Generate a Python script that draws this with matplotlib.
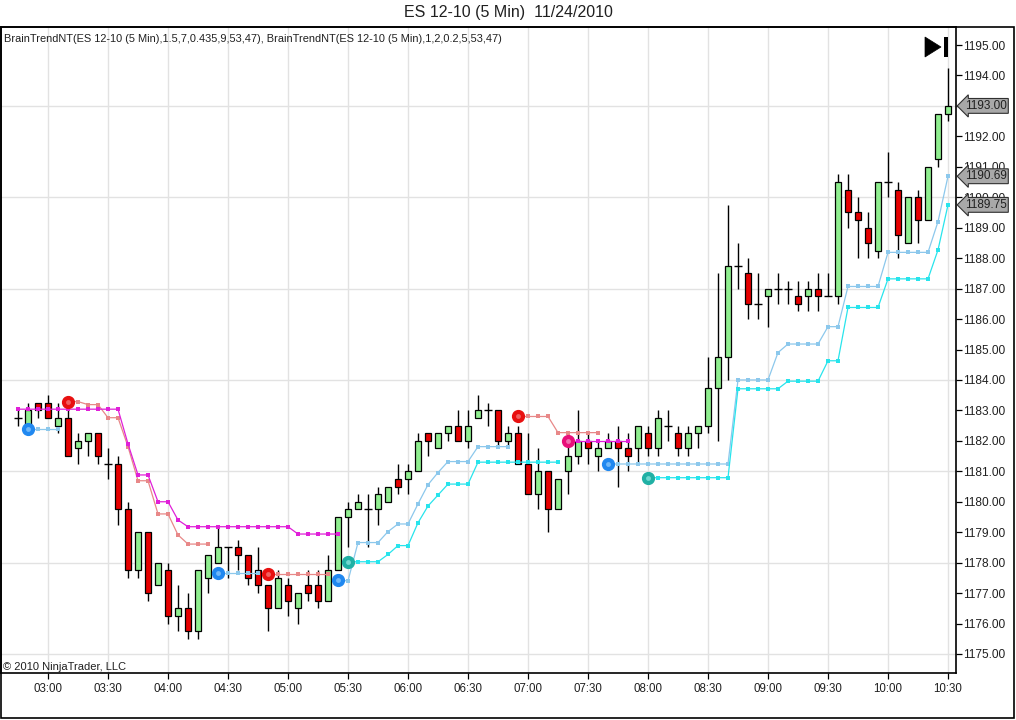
import numpy as np
import matplotlib
matplotlib.use("Agg")
import matplotlib.pyplot as plt
from matplotlib.patches import Rectangle, Polygon
from matplotlib.transforms import blended_transform_factory

plt.rcParams['font.family'] = ['Liberation Sans', 'DejaVu Sans']

# ---------------- data ----------------
time_labels = ["03:00", "03:30", "04:00", "04:30", "05:00", "05:30", "06:00", "06:30",
               "07:00", "07:30", "08:00", "08:30", "09:00", "09:30", "10:00", "10:30"]
first_label_bar = 3   # bar index of 03:00 (first bar is 02:45)

opens = [1182.75, 1182.5, 1183.25, 1183.25, 1182.5, 1182.75, 1181.75, 1182.0, 1182.25, 1181.25,
         1181.25, 1179.75, 1177.75, 1179.0, 1177.25, 1177.75, 1176.25, 1176.5, 1175.75, 1177.5,
         1178.0, 1178.5, 1178.5, 1178.25, 1177.75, 1177.25, 1176.5, 1177.25, 1176.5, 1177.25,
         1177.25, 1176.75, 1177.75, 1179.5, 1179.75, 1179.75, 1179.75, 1180.0, 1180.75, 1180.75,
         1181.0, 1182.25, 1181.75, 1182.25, 1182.5, 1182.0, 1182.75, 1183.0, 1183.0, 1182.0,
         1182.25, 1181.25, 1180.25, 1181.0, 1179.75, 1181.0, 1181.5, 1182.0, 1181.5, 1181.75,
         1182.0, 1181.75, 1181.75, 1182.25, 1181.75, 1182.5, 1182.25, 1181.75, 1182.25, 1182.5,
         1183.75, 1184.75, 1187.75, 1187.5, 1186.5, 1186.75, 1187.0, 1187.0, 1186.75, 1186.75,
         1187.0, 1186.75, 1186.75, 1190.25, 1189.5, 1189.0, 1188.25, 1190.5, 1190.25, 1188.5,
         1190.0, 1189.25, 1191.25, 1192.75]
highs = [1183.0, 1183.25, 1183.25, 1183.5, 1183.25, 1183.0, 1182.25, 1182.25, 1182.25, 1181.75,
         1181.5, 1180.0, 1179.0, 1179.0, 1178.0, 1178.0, 1177.25, 1177.0, 1177.75, 1178.25,
         1179.25, 1178.5, 1178.75, 1178.25, 1178.5, 1177.25, 1177.75, 1177.5, 1177.0, 1177.75,
         1177.75, 1178.25, 1179.5, 1180.0, 1180.25, 1180.25, 1180.5, 1180.5, 1181.25, 1181.25,
         1182.25, 1182.25, 1182.25, 1182.5, 1183.0, 1183.0, 1183.5, 1183.25, 1183.0, 1182.5,
         1182.5, 1182.25, 1181.75, 1181.0, 1180.75, 1182.0, 1183.0, 1182.25, 1182.0, 1182.25,
         1182.5, 1182.25, 1182.5, 1182.5, 1183.0, 1183.0, 1182.5, 1182.5, 1182.5, 1184.75,
         1187.5, 1189.75, 1188.5, 1188.0, 1187.5, 1187.0, 1187.5, 1187.25, 1187.25, 1187.25,
         1187.5, 1187.5, 1190.75, 1190.75, 1190.0, 1189.5, 1190.5, 1191.5, 1190.5, 1190.0,
         1190.25, 1191.0, 1192.75, 1194.25]
lows = [1182.5, 1182.5, 1182.75, 1182.75, 1182.25, 1181.5, 1181.25, 1181.5, 1181.25, 1180.75,
        1179.25, 1177.5, 1177.5, 1176.75, 1177.25, 1176.0, 1175.75, 1175.5, 1175.5, 1177.0,
        1178.0, 1177.5, 1177.75, 1177.25, 1177.0, 1175.75, 1176.5, 1176.25, 1176.0, 1176.75,
        1176.5, 1176.75, 1177.75, 1178.5, 1179.75, 1178.5, 1179.25, 1180.0, 1180.25, 1180.25,
        1181.0, 1181.5, 1181.75, 1182.0, 1182.0, 1181.75, 1182.75, 1182.5, 1181.75, 1181.75,
        1181.25, 1180.25, 1179.75, 1179.0, 1179.75, 1180.25, 1181.25, 1181.25, 1181.0, 1181.75,
        1180.5, 1181.0, 1181.25, 1181.5, 1181.5, 1182.0, 1181.5, 1181.5, 1181.75, 1182.25,
        1182.0, 1184.0, 1187.0, 1186.0, 1186.0, 1185.75, 1186.5, 1186.5, 1186.25, 1186.25,
        1186.25, 1186.75, 1186.5, 1189.0, 1188.0, 1188.0, 1188.0, 1190.0, 1188.0, 1188.5,
        1188.5, 1189.25, 1191.0, 1192.5]
closes = [1182.75, 1183.0, 1183.0, 1182.75, 1182.75, 1181.5, 1182.0, 1182.25, 1181.5, 1181.25,
          1179.75, 1177.75, 1179.0, 1177.0, 1178.0, 1176.25, 1176.5, 1175.75, 1177.75, 1178.25,
          1178.5, 1178.5, 1178.25, 1177.5, 1177.25, 1176.5, 1177.5, 1176.75, 1177.0, 1177.0,
          1176.75, 1177.75, 1179.5, 1179.75, 1180.0, 1179.75, 1180.25, 1180.5, 1180.5, 1181.0,
          1182.0, 1182.0, 1182.25, 1182.5, 1182.0, 1182.5, 1183.0, 1183.0, 1182.0, 1182.25,
          1181.25, 1180.25, 1181.0, 1179.75, 1180.75, 1181.5, 1182.0, 1181.75, 1181.75, 1182.0,
          1181.75, 1181.5, 1182.5, 1181.75, 1182.75, 1182.5, 1181.75, 1182.25, 1182.5, 1183.75,
          1184.75, 1187.75, 1187.75, 1186.5, 1186.5, 1187.0, 1187.0, 1187.0, 1186.5, 1187.0,
          1186.75, 1186.75, 1190.5, 1189.5, 1189.25, 1188.5, 1190.5, 1190.5, 1188.75, 1190.0,
          1189.25, 1191.0, 1192.75, 1193.0]

# BrainTrend stop lines: (start bar, values)
magenta_segments = [
    (0, [1183.04] * 11 + [1181.9, 1180.88, 1180.88, 1180.0, 1180.0, 1179.40] + [1179.18] * 11 + [1178.94] * 5),
    (55, [1182.0] * 7),
]
salmon_segments = [
    (5, [1183.29, 1183.29, 1183.19, 1183.19, 1182.76, 1182.76, 1181.81, 1180.69, 1180.69,
         1179.60, 1179.60, 1178.91, 1178.61, 1178.61, 1178.61]),
    (25, [1177.62] * 7),
    (50, [1182.80] * 4 + [1182.27] * 5),
]
lightblue_segments = [
    (1, [1182.39] * 4),
    (20, [1177.67] * 5),
    (32, [1177.43, 1177.40, 1178.66, 1178.66, 1178.66, 1179.02, 1179.27, 1179.27, 1179.93,
          1180.56, 1180.96, 1181.32, 1181.32, 1181.32, 1181.81, 1181.81, 1181.81, 1181.81]),
    (59, [1181.24] * 13 + [1184.0] * 4 + [1184.9] + [1185.18] * 4 + [1185.75] * 2
         + [1187.07] * 4 + [1188.19] * 5 + [1189.2, 1190.69]),
]
cyan_segments = [
    (33, [1178.03] * 4 + [1178.27, 1178.56, 1178.56, 1179.31, 1179.86, 1180.22]
         + [1180.58] * 3 + [1181.30] * 9),
    (63, [1180.79] * 9 + [1183.71] * 5 + [1183.96] * 4 + [1184.63] * 2 + [1186.38] * 4
         + [1187.32] * 5 + [1188.27, 1189.75]),
]
# signal dots at segment starts: (bar, price, kind)
signal_dots = [(5, 1183.29, 'red'), (25, 1177.62, 'red'), (50, 1182.80, 'red'),
               (1, 1182.39, 'blue'), (20, 1177.67, 'blue'), (32, 1177.43, 'blue'), (59, 1181.24, 'blue'),
               (33, 1178.03, 'teal'), (63, 1180.79, 'teal'),
               (55, 1182.0, 'pink')]
price_flags = [1193.00, 1190.69, 1189.75]
ytick_values = list(range(1175, 1196))
ygrid_values = [1175, 1178, 1181, 1184, 1187, 1190, 1193]

# ---------------- figure ----------------
W, H = 1016, 720
fig = plt.figure(figsize=(W / 100, H / 100), dpi=100)
fig.patch.set_facecolor('white')

def fx(px):
    return px / W

def fy(py):
    return 1 - py / H

ax_left, ax_right, ax_top, ax_bottom = 1, 956, 27, 673
ax = fig.add_axes([fx(ax_left), fy(ax_bottom), (ax_right - ax_left) / W, (ax_bottom - ax_top) / H])
ax.set_facecolor('white')

# scale: bar i at x = 18 + 10 i ; price p at y = 45 + (1195 - p) * 30.45
ax.set_xlim((ax_left - 18) / 10, (ax_right - 18) / 10)
ax.set_ylim(1195 - (ax_bottom - 45) / 30.45, 1195 + (45 - ax_top) / 30.45)

n = len(closes)
idx = np.arange(n)
xtick_pos = [first_label_bar + 6 * k for k in range(len(time_labels))]

# grid
for g in ygrid_values:
    ax.axhline(g, color='#e2e2e2', lw=1.0, zorder=0)
for xp in xtick_pos:
    ax.axvline(xp, color='#e2e2e2', lw=1.0, zorder=0)

# candles
o = np.array(opens); h = np.array(highs); l = np.array(lows); c = np.array(closes)
ax.vlines(idx, l, h, colors='black', lw=1.0, zorder=3)
up = c > o
dn = c < o
dj = c == o
ax.bar(idx[up], (c - o)[up], bottom=o[up], width=0.68, color='#90ee90', edgecolor='black', lw=0.9, zorder=4)
ax.bar(idx[dn], (o - c)[dn], bottom=c[dn], width=0.68, color='#e60000', edgecolor='black', lw=0.9, zorder=4)
ax.hlines(c[dj], idx[dj] - 0.36, idx[dj] + 0.36, colors='black', lw=1.0, zorder=4)

def draw_segments(segs, color, z):
    for start, vals in segs:
        xs = np.arange(start, start + len(vals))
        ax.plot(xs, vals, color=color, lw=0.9, marker='s', markersize=3.0,
                markeredgewidth=0, zorder=z)

draw_segments(salmon_segments, '#e88888', 5)
draw_segments(magenta_segments, '#e020d8', 6)
draw_segments(lightblue_segments, '#8cc8ec', 5)
draw_segments(cyan_segments, '#28e4ec', 6)

dot_styles = {'red': ('#e81010', '#f06060'), 'blue': ('#2088f0', '#70b8f8'),
              'teal': ('#20b0a4', '#70d8d0'), 'pink': ('#e8107a', '#f070b0')}
for b, p, kind in signal_dots:
    outer, inner = dot_styles[kind]
    ax.plot([b], [p], marker='o', markersize=8.5, color=outer, markeredgecolor=outer, zorder=8)
    ax.plot([b], [p], marker='o', markersize=3.5, color=inner, markeredgewidth=0, zorder=9)

# axes styling
for side in ['left', 'top', 'right', 'bottom']:
    ax.spines[side].set_color('black')
    ax.spines[side].set_linewidth(1.2)
ax.yaxis.tick_right()
ax.set_yticks(ytick_values)
ax.set_yticklabels([f"{v:.2f}" for v in ytick_values])
ax.set_xticks(xtick_pos)
ax.set_xticklabels(time_labels)
ax.tick_params(axis='y', which='both', direction='out', length=4.0, width=0.9, pad=0.8,
               labelsize=8.6, colors='black', labelcolor='#202020')
ax.tick_params(axis='x', which='both', direction='out', length=4.5, width=0.9, pad=2.5,
               labelsize=8.3, colors='black', labelcolor='#202020')

# price flags
tr = blended_transform_factory(fig.transFigure, ax.transData)
for p in price_flags:
    fig.text(fx(965), p, f"{p:.2f}", transform=tr, ha='left', va='center', fontsize=8.5,
             color='#202020', zorder=10,
             bbox=dict(boxstyle='larrow,pad=0.12', fc='#a8a8a8', ec='#303030', lw=0.8))

# outer frame
fig.add_artist(Rectangle((fx(1), fy(718)), (1014 - 1) / W, (718 - 27) / H, transform=fig.transFigure,
                         fill=False, ec='black', lw=1.2))

# play-to-end icon
fig.add_artist(Polygon([(fx(925), fy(37)), (fx(925), fy(57)), (fx(941), fy(47))],
                       closed=True, transform=fig.transFigure, fc='black', ec='black', lw=0.5))
fig.add_artist(Rectangle((fx(944), fy(57)), 4 / W, 20 / H, transform=fig.transFigure,
                         fc='black', ec='black', lw=0))

# texts
fig.text(0.5, fy(13), "ES 12-10 (5 Min)  11/24/2010", ha='center', va='center', fontsize=11.5, color='#202020')
fig.text(fx(4), fy(39), "BrainTrendNT(ES 12-10 (5 Min),1.5,7,0.435,9,53,47), "
         "BrainTrendNT(ES 12-10 (5 Min),1,2,0.2,5,53,47)", ha='left', va='center', fontsize=7.9,
         color='#202020')
fig.text(fx(3), fy(667), "\u00a9 2010 NinjaTrader, LLC", ha='left', va='center', fontsize=8, color='#202020')

fig.savefig("out.png", dpi=100)
